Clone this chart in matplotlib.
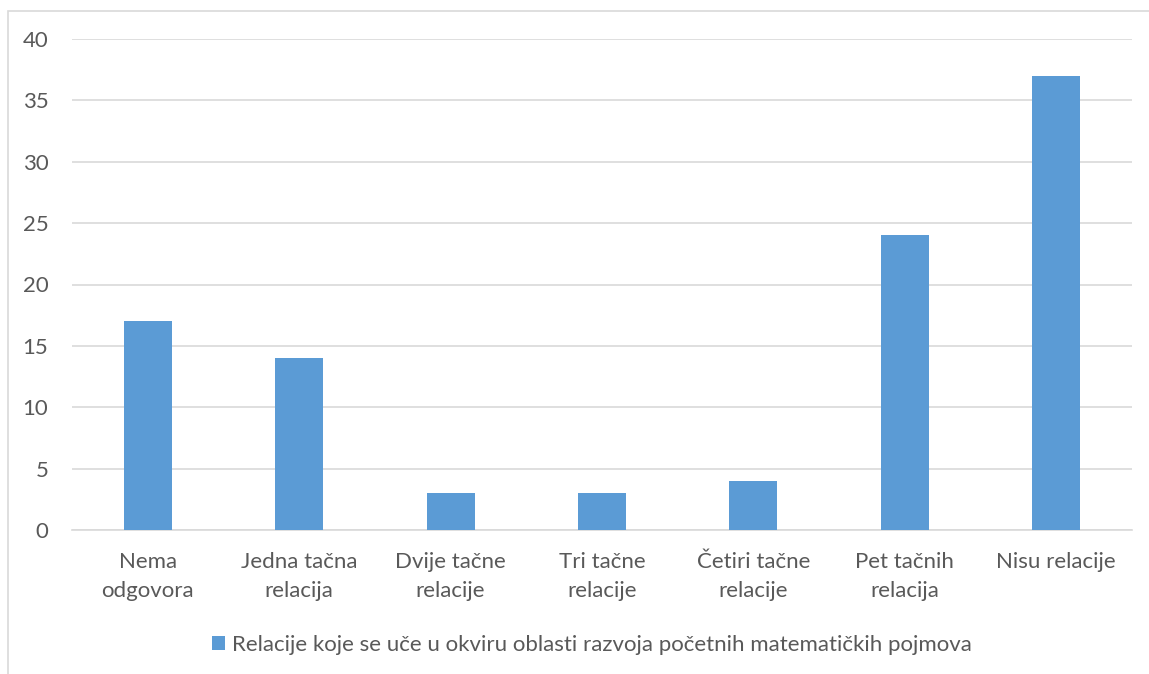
import matplotlib
matplotlib.use("Agg")
import matplotlib.pyplot as plt
from matplotlib.patches import Rectangle

categories = ["Nema\nodgovora", "Jedna tačna\nrelacija", "Dvije tačne\nrelacije",
              "Tri tačne\nrelacije", "Četiri tačne\nrelacije", "Pet tačnih\nrelacija",
              "Nisu relacije"]
values = [17, 14, 3, 3, 4, 24, 37]
series_name = "Relacije koje se uče u okviru oblasti razvoja početnih matematičkih pojmova"
yticks = [0, 5, 10, 15, 20, 25, 30, 35, 40]

plt.rcParams['font.family'] = ['Lato', 'DejaVu Sans']
text_color = "#595959"

fig = plt.figure(figsize=(11.49, 6.74), dpi=100)
fig.patches.append(Rectangle((8/1149, -0.1), 1.2, (674 - 11)/674 + 0.1, transform=fig.transFigure,
                             fill=False, edgecolor="#D9D9D9", linewidth=1.2))
ax = fig.add_axes([72/1149, 1 - 530/674, (1132 - 72)/1149, (530 - 39)/674])
x = list(range(len(categories)))
ax.bar(x, values, width=0.317, color="#5B9BD5", label=series_name, zorder=3)
ax.set_xlim(-0.5, len(categories) - 0.5)
ax.set_ylim(0, 40)
ax.set_yticks(yticks)
ax.set_xticks(x)
ax.set_xticklabels(categories, fontsize=16, color=text_color, linespacing=1.55)
ax.tick_params(axis='y', labelsize=16, labelcolor=text_color, length=0, pad=17)
ax.tick_params(axis='x', length=0, pad=16)
ax.grid(axis='y', color="#D9D9D9", linewidth=1.2, zorder=0)
for s in ["top", "right", "left"]:
    ax.spines[s].set_visible(False)
ax.spines["bottom"].set_color("#D9D9D9")
ax.spines["bottom"].set_linewidth(1.2)

leg = fig.legend(loc="center", bbox_to_anchor=(592/1149, 1 - 645/674), frameon=False,
                 fontsize=16, handlelength=0.6, handleheight=0.6, handletextpad=0.3)
for t in leg.get_texts():
    t.set_color(text_color)

fig.savefig("out.png", dpi=100)
